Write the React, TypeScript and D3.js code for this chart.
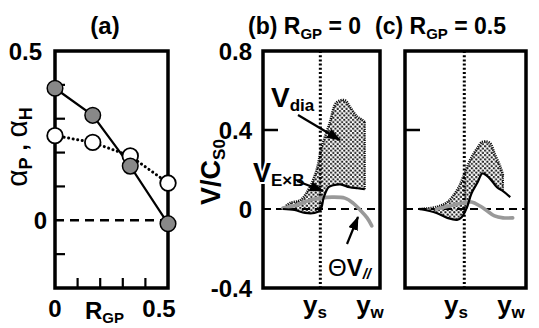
import React from "react";
import * as d3 from "d3";

// ---------- Data ----------
const rgp = [0, 0.167, 0.333, 0.5];
const alphaP = [0.39, 0.31, 0.16, -0.01];
const alphaH = [0.25, 0.23, 0.19, 0.11];
const aYTicks = [0.4, 0.3, 0.2, 0.1, -0.1];
const aXTicks = [0.1, 0.2, 0.3, 0.4];

// panel (b)  R_GP = 0   (x normalised 0..1 from left to y_w)
const bTotX = [0.17, 0.23, 0.32, 0.4, 0.46, 0.5, 0.57, 0.63, 0.7, 0.74, 0.8, 0.85, 0.87];
const bTotY = [0.0, 0.03, 0.045, 0.11, 0.2, 0.31, 0.435, 0.54, 0.55, 0.52, 0.47, 0.45, 0.44];
const bExbX = [0.17, 0.27, 0.36, 0.44, 0.49, 0.52, 0.56, 0.6, 0.66, 0.74, 0.81, 0.87];
const bExbY = [0.0, -0.005, -0.02, -0.02, -0.005, 0.06, 0.11, 0.12, 0.125, 0.11, 0.105, 0.1];
const bParX = [0.17, 0.29, 0.4, 0.49, 0.59, 0.7, 0.77, 0.83, 0.89, 0.93];
const bParY = [0.005, 0.02, 0.045, 0.055, 0.06, 0.055, 0.03, -0.005, -0.045, -0.085];

// panel (c)  R_GP = 0.5
const cTotX = [0.12, 0.26, 0.35, 0.43, 0.48, 0.54, 0.6, 0.64, 0.7, 0.74, 0.79, 0.81];
const cTotY = [0.0, 0.01, 0.035, 0.095, 0.16, 0.25, 0.31, 0.34, 0.335, 0.28, 0.21, 0.17];
const cExbX = [0.12, 0.26, 0.35, 0.43, 0.47, 0.51, 0.55, 0.6, 0.64, 0.7, 0.76, 0.81, 0.87];
const cExbY = [0.0, -0.02, -0.045, -0.055, -0.04, 0.005, 0.08, 0.135, 0.18, 0.155, 0.11, 0.09, 0.06];
const cParX = [0.26, 0.37, 0.47, 0.55, 0.62, 0.68, 0.74, 0.81, 0.89];
const cParY = [0.0, 0.015, 0.03, 0.035, 0.015, -0.01, -0.035, -0.045, -0.045];

const ysPos = 0.49;
const bcYTick = 0.4;
const bcYLabels = ["0.8", "0.4", "0", "-0.4"];
const bcYVals = [0.8, 0.4, 0, -0.4];

const FONT = "'Liberation Sans', Arial, Helvetica, sans-serif";

type P = [number, number];
const zip = (xs: number[], ys: number[]): P[] => xs.map((x, i) => [x, ys[i]]);

function Frame({ x0, x1, y0, y1 }: { x0: number; x1: number; y0: number; y1: number }) {
  return <rect x={x0} y={y0} width={x1 - x0} height={y1 - y0} fill="none" stroke="#000" strokeWidth={3.5} />;
}

function ProfilePanel({
  x, y, tot, exb, par,
}: {
  x: d3.ScaleLinear<number, number>;
  y: d3.ScaleLinear<number, number>;
  tot: P[]; exb: P[]; par: P[];
}) {
  const line = d3.line<P>().x((d) => x(d[0])).y((d) => y(d[1])).curve(d3.curveCatmullRom.alpha(0.5));
  const lastX = tot[tot.length - 1][0];
  const lower = exb.filter((d) => d[0] <= lastX + 1e-9);
  const upperPath = line(tot) as string;
  const lowerRev = line(lower.slice().reverse()) as string;
  const area = upperPath + "L" + lowerRev.slice(1) + "Z";
  const [x0, x1] = x.range();
  const [yb, yt] = y.range();
  return (
    <g>
      <path d={area} fill="url(#dots)" stroke="none" />
      <path d={upperPath} fill="none" stroke="#111" strokeWidth={2.6} strokeDasharray="1.2 1" />
      <path d={`M${x(lastX)},${y(tot[tot.length - 1][1])}V${y(lower[lower.length - 1][1])}`} stroke="#111" strokeWidth={2} strokeDasharray="1.2 1" />
      <line x1={x0} x2={x1} y1={y(0)} y2={y(0)} stroke="#000" strokeWidth={2.2} strokeDasharray="8 5" />
      <line x1={x(ysPos)} x2={x(ysPos)} y1={yt} y2={yb} stroke="#000" strokeWidth={3} strokeDasharray="2 2.2" />
      <path d={line(par) as string} fill="none" stroke="#999" strokeWidth={3.6} strokeLinecap="round" />
      <path d={line(exb) as string} fill="none" stroke="#000" strokeWidth={2.2} />
      <line x1={x0} x2={x0 + 15} y1={y(bcYTick)} y2={y(bcYTick)} stroke="#000" strokeWidth={2.5} />
    </g>
  );
}

export default function App() {
  const xA = d3.scaleLinear().domain([0, 0.5]).range([55, 168]);
  const yA = d3.scaleLinear().domain([-0.2, 0.5]).range([288, 51]);
  const xB = d3.scaleLinear().domain([0, 1]).range([263, 380]);
  const xC = d3.scaleLinear().domain([0, 1]).range([405, 526]);
  const yB = d3.scaleLinear().domain([-0.4, 0.8]).range([288, 51]);

  const lineA = d3.line<number>().x((_, i) => xA(rgp[i])).y((d) => yA(d));

  const tx = { fontFamily: FONT, fontWeight: 700, fill: "#000" } as const;

  return (
    <svg width={539} height={328} style={{ display: "block", position: "absolute", left: 0, top: 0 }}>
      <defs>
        <pattern id="dots" width={4.4} height={4.4} patternUnits="userSpaceOnUse">
          <rect width={4.4} height={4.4} fill="#fff" />
          <circle cx={1.1} cy={1.1} r={1.15} fill="#222" />
          <circle cx={3.3} cy={3.3} r={1.15} fill="#222" />
        </pattern>
        <marker id="ah" viewBox="0 0 14 10" refX={13} refY={5} markerWidth={14} markerHeight={10} markerUnits="userSpaceOnUse" orient="auto">
          <path d="M0,0L14,5L0,10Z" fill="#000" />
        </marker>
      </defs>
      <rect width={539} height={328} fill="#fff" />

      {/* ---------- panel (a) ---------- */}
      <text x={105} y={34} textAnchor="middle" fontSize={24} {...tx}>(a)</text>
      <line x1={xA(0)} x2={xA(0.5)} y1={yA(0)} y2={yA(0)} stroke="#000" strokeWidth={2.4} strokeDasharray="9 6" />
      {aYTicks.map((t) => (
        <line key={"ay" + t} x1={xA(0)} x2={xA(0) + 10} y1={yA(t)} y2={yA(t)} stroke="#000" strokeWidth={2.2} />
      ))}
      {aXTicks.map((t) => (
        <line key={"ax" + t} x1={xA(t)} x2={xA(t)} y1={yA(-0.2)} y2={yA(-0.2) - 10} stroke="#000" strokeWidth={2.2} />
      ))}
      <Frame x0={xA(0)} x1={xA(0.5)} y0={yA(0.5)} y1={yA(-0.2)} />
      <path d={lineA(alphaH) as string} fill="none" stroke="#000" strokeWidth={3} strokeDasharray="0.1 4.5" strokeLinecap="round" />
      <path d={lineA(alphaP) as string} fill="none" stroke="#000" strokeWidth={2.2} />
      {alphaH.map((v, i) => (
        <circle key={"h" + i} cx={xA(rgp[i])} cy={yA(v)} r={7.8} fill="#fff" stroke="#000" strokeWidth={1.8} />
      ))}
      {alphaP.map((v, i) => (
        <circle key={"p" + i} cx={xA(rgp[i])} cy={yA(v)} r={7.8} fill="#888" stroke="#000" strokeWidth={1.5} />
      ))}
      <text x={42} y={yA(0.5) + 8.5} textAnchor="end" fontSize={24} {...tx}>0.5</text>
      <text x={47} y={yA(0) + 8.5} textAnchor="end" fontSize={24} {...tx}>0</text>
      <text transform={`translate(27,${147}) rotate(-90)`} textAnchor="middle" fontSize={30} {...tx} fontWeight={400}>
        α<tspan fontSize={18} dy={5} fontWeight={700}>P</tspan><tspan dy={-5} fontWeight={700} fontSize={24}> , </tspan>α<tspan fontSize={18} dy={5} fontWeight={700}>H</tspan>
      </text>
      <text x={xA(0)} y={317} textAnchor="middle" fontSize={24} {...tx}>0</text>
      <text x={159} y={317} textAnchor="middle" fontSize={24} {...tx}>0.5</text>
      <text x={85} y={319} fontSize={24} {...tx}>R<tspan fontSize={15} dy={4}>GP</tspan></text>

      {/* ---------- panel (b) ---------- */}
      <text x={248} y={34} fontSize={23} {...tx}>
        (b) R<tspan fontSize={15} dy={5}>GP</tspan><tspan dy={-5}> = 0</tspan>
      </text>
      <ProfilePanel x={xB} y={yB} tot={zip(bTotX, bTotY)} exb={zip(bExbX, bExbY)} par={zip(bParX, bParY)} />
      <Frame x0={263} x1={380} y0={51} y1={288} />
      {bcYVals.map((v, i) => (
        <text key={"by" + i} x={252} y={yB(v) + 8.5} textAnchor="end" fontSize={24} {...tx}>{bcYLabels[i]}</text>
      ))}
      <text transform={`translate(220,172) rotate(-90)`} textAnchor="middle" fontSize={27} {...tx}>
        V/C<tspan fontSize={17} dy={5}>S0</tspan>
      </text>
      {/* annotations */}
      <text x={271} y={107} fontSize={28} {...tx}>V<tspan fontSize={17} dy={4}>dia</tspan></text>
      <line x1={298} y1={115} x2={340} y2={140} stroke="#000" strokeWidth={2.2} markerEnd="url(#ah)" />
      <text x={253} y={182} fontSize={27} stroke="#fff" strokeWidth={4} paintOrder="stroke" {...tx}>
        V<tspan fontSize={17} dy={4}>E×B</tspan>
      </text>
      <line x1={297} y1={181} x2={323} y2={191} stroke="#000" strokeWidth={2.2} markerEnd="url(#ah)" />
      <text x={328} y={276} fontSize={24} {...tx}>
        <tspan fontWeight={400}>Θ</tspan>V<tspan fontSize={15} dy={3} fontStyle="italic">//</tspan>
      </text>
      <line x1={347} y1={244} x2={358} y2={217} stroke="#000" strokeWidth={2.2} markerEnd="url(#ah)" />
      <text x={315} y={314} textAnchor="middle" fontSize={26} {...tx}>y<tspan fontSize={17} dy={4}>s</tspan></text>
      <text x={370} y={314} textAnchor="middle" fontSize={26} {...tx}>y<tspan fontSize={17} dy={4}>w</tspan></text>

      {/* ---------- panel (c) ---------- */}
      <text x={375} y={34} fontSize={23} {...tx}>
        (c) R<tspan fontSize={15} dy={5}>GP</tspan><tspan dy={-5}> = 0.5</tspan>
      </text>
      <ProfilePanel x={xC} y={yB} tot={zip(cTotX, cTotY)} exb={zip(cExbX, cExbY)} par={zip(cParX, cParY)} />
      <Frame x0={405} x1={526} y0={51} y1={288} />
      <text x={456} y={314} textAnchor="middle" fontSize={26} {...tx}>y<tspan fontSize={17} dy={4}>s</tspan></text>
      <text x={511} y={314} textAnchor="middle" fontSize={26} {...tx}>y<tspan fontSize={17} dy={4}>w</tspan></text>
    </svg>
  );
}
